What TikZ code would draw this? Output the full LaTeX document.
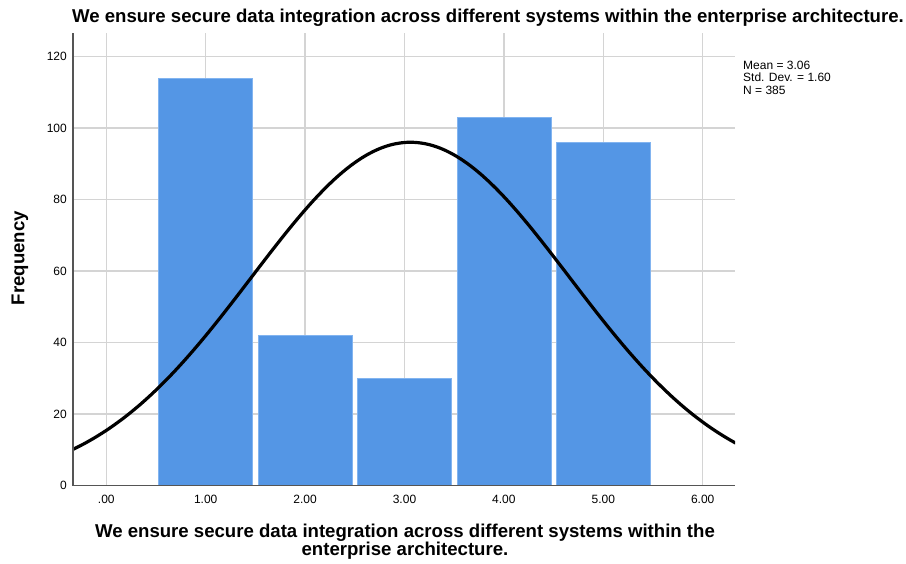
\documentclass[tikz,border=0pt]{standalone}
\usepackage{fontspec}
\setmainfont{Liberation Sans}
\begin{document}
\definecolor{barblue}{RGB}{84,150,229}
\definecolor{baredge}{RGB}{130,180,240}
\definecolor{gridgray}{RGB}{212,212,212}
\definecolor{axisgray}{RGB}{85,85,85}
\begin{tikzpicture}[x=1pt,y=-1pt,
  gridline/.style={draw=gridgray,line width=1.3pt},
  axisline/.style={draw=axisgray,line width=1.2pt},
  barbox/.style={fill=barblue,draw=baredge,line width=0.6pt},
  ticklab/.style={font=\fontsize{12}{14}\selectfont,inner sep=0pt},
  normcurve/.style={draw=black,line width=3.2pt},
  titletext/.style={font=\fontsize{18.6}{18}\selectfont\bfseries,inner sep=0pt},
  legendtext/.style={font=\fontsize{12}{12.5}\selectfont,inner sep=0pt,align=left,anchor=north west}]
\useasboundingbox (0,0) rectangle (906,563);
% plot frame: x value v -> 106.3+99.4 v, frequency f -> 485.5-3.575 f
\def\xo{106.3}\def\xu{99.4}\def\yo{485.5}\def\yu{3.575}
\coordinate (plotTL) at (73,33);
\coordinate (plotBL) at (73,485.5);
\coordinate (plotBR) at (735,485.5);
% horizontal grid lines and frequency labels
\foreach \f in {20,40,...,120}{
  \draw[gridline] (73,{\yo-\yu*\f}) -- (735,{\yo-\yu*\f});
}
\foreach \f in {0,20,...,120}{
  \node[ticklab,anchor=east] (ylab\f) at (67,{\yo-\yu*\f}) {\f};
}
% vertical grid lines and value labels
\foreach \v in {0,...,6}{
  \draw[gridline] ({\xo+\xu*\v},33) -- ({\xo+\xu*\v},485.5);
}
\node[ticklab] (xlab0) at ({\xo},499) {.00};
\foreach \v in {1,...,6}{
  \node[ticklab] (xlab\v) at ({\xo+\xu*\v},499) {\v.00};
}
% histogram bars
\foreach \v/\n in {1/114,2/42,3/30,4/103,5/96}{
  \draw[barbox] ({\xo+\xu*\v-47},485.5) rectangle ({\xo+\xu*\v+47},{\yo-\yu*\n});
}
% fitted normal curve: mean 3.06, sd 1.60, N 385
\begin{scope}
\clip (73,20) rectangle (735,485.5);
\draw[normcurve,line cap=round] plot[domain=-0.34:6.33,samples=120,smooth,variable=\t]
  ({\xo+\xu*\t},{\yo-\yu*(385/(1.6*sqrt(2*pi)))*exp(-((\t-3.06)^2)/(2*1.6*1.6))});
\end{scope}
% axes
\draw[axisline] (plotTL) -- (plotBL) -- (plotBR);
% titles
\node[titletext] (title) at (488,18) {We ensure secure data integration across different systems within the enterprise architecture.};
\node[titletext,rotate=90] (ytitle) at (20,258) {Frequency};
\node[titletext,align=center] (xtitle) at (405,542) {We ensure secure data integration across different systems within the\\enterprise architecture.};
% statistics
\node[legendtext] (stats) at (743,60.5) {Mean = 3.06\\Std. Dev. = 1.60\\N = 385};
\end{tikzpicture}
\end{document}
